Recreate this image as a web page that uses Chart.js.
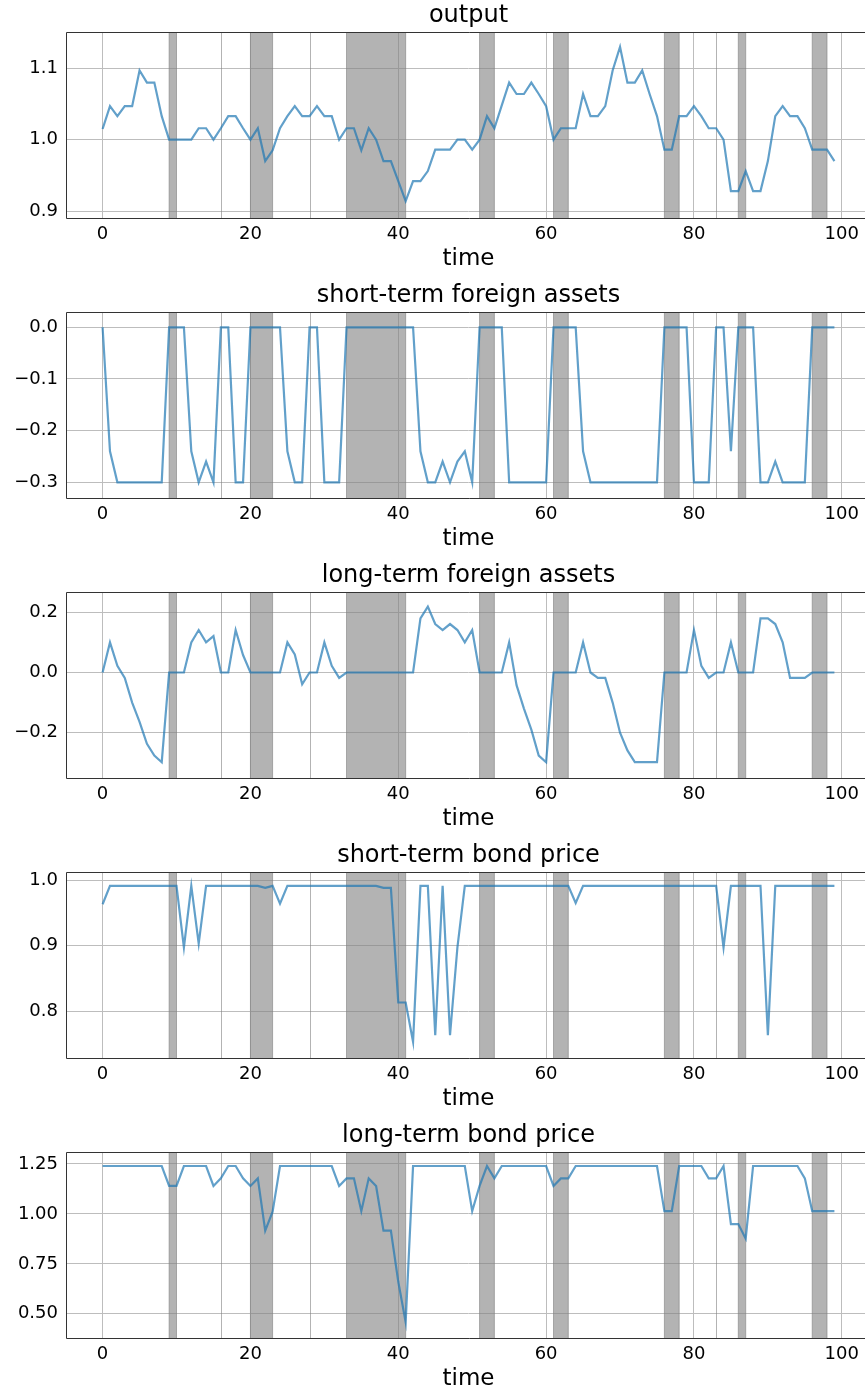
<!DOCTYPE html>
<html><head><meta charset="utf-8">
<script src="https://cdn.jsdelivr.net/npm/chart.js@4.4.1/dist/chart.umd.min.js"></script>
<style>
html,body{margin:0;padding:0;background:#fff;overflow:hidden;width:865px;height:1392px;position:relative;}
canvas.c{position:absolute;left:0;}
</style></head><body>
<script>
// ---- data ----
const time = Array.from({length: 100}, (_, i) => i);
const xTicks = [0, 20, 40, 60, 80, 100];
const spans = [[9,10],[20,23],[33,41],[51,53],[61,63],[76,78],[86,87],[96,98]];
const marks = [16, 28, 83];

const outputValues = [1.015,1.047,1.033,1.047,1.047,1.097,1.080,1.080,1.033,1.0,
 1.0,1.0,1.0,1.016,1.016,1.0,1.016,1.033,1.033,1.016,
 1.0,1.016,0.970,0.985,1.016,1.033,1.047,1.033,1.033,1.047,
 1.033,1.033,1.0,1.016,1.016,0.985,1.016,1.0,0.970,0.970,
 0.942,0.914,0.942,0.942,0.956,0.986,0.986,0.986,1.0,1.0,
 0.986,1.0,1.033,1.016,1.048,1.080,1.064,1.064,1.080,1.064,
 1.047,1.0,1.016,1.016,1.016,1.064,1.033,1.033,1.047,1.097,
 1.130,1.080,1.080,1.097,1.064,1.033,0.986,0.986,1.033,1.033,
 1.047,1.033,1.016,1.016,1.0,0.928,0.928,0.956,0.928,0.928,
 0.970,1.033,1.047,1.033,1.033,1.016,0.986,0.986,0.986,0.970];

const shortAssets = [0,-0.24,-0.3,-0.3,-0.3,-0.3,-0.3,-0.3,-0.3,0,
 0,0,-0.24,-0.3,-0.26,-0.3,0,0,-0.3,-0.3,
 0,0,0,0,0,-0.24,-0.3,-0.3,0,0,
 -0.3,-0.3,-0.3,0,0,0,0,0,0,0,
 0,0,0,-0.24,-0.3,-0.3,-0.26,-0.3,-0.26,-0.24,
 -0.3,0,0,0,0,-0.3,-0.3,-0.3,-0.3,-0.3,
 -0.3,0,0,0,0,-0.24,-0.3,-0.3,-0.3,-0.3,
 -0.3,-0.3,-0.3,-0.3,-0.3,-0.3,0,0,0,0,
 -0.3,-0.3,-0.3,0,0,-0.24,0,0,0,-0.3,
 -0.3,-0.26,-0.3,-0.3,-0.3,-0.3,0,0,0,0];

const longAssets = [0,0.10,0.022,-0.018,-0.10,-0.164,-0.237,-0.276,-0.298,0,
 0,0,0.10,0.141,0.10,0.121,0,0,0.141,0.058,
 0,0,0,0,0,0.10,0.06,-0.039,0,0,
 0.10,0.022,-0.018,0,0,0,0,0,0,0,
 0,0,0,0.18,0.219,0.161,0.141,0.161,0.141,0.10,
 0.141,0,0,0,0,0.10,-0.042,-0.12,-0.19,-0.276,
 -0.298,0,0,0,0,0.10,0,-0.018,-0.018,-0.10,
 -0.20,-0.259,-0.298,-0.298,-0.298,-0.298,0,0,0,0,
 0.141,0.022,-0.018,0,0,0.10,0,0,0,0.18,
 0.18,0.161,0.10,-0.018,-0.018,-0.018,0,0,0,0];

const shortPrice = [0.963,0.991,0.991,0.991,0.991,0.991,0.991,0.991,0.991,0.991,
 0.991,0.897,0.991,0.903,0.991,0.991,0.991,0.991,0.991,0.991,
 0.991,0.991,0.988,0.991,0.964,0.991,0.991,0.991,0.991,0.991,
 0.991,0.991,0.991,0.991,0.991,0.991,0.991,0.991,0.988,0.988,
 0.813,0.813,0.753,0.991,0.991,0.763,0.991,0.763,0.897,0.991,
 0.991,0.991,0.991,0.991,0.991,0.991,0.991,0.991,0.991,0.991,
 0.991,0.991,0.991,0.991,0.965,0.991,0.991,0.991,0.991,0.991,
 0.991,0.991,0.991,0.991,0.991,0.991,0.991,0.991,0.991,0.991,
 0.991,0.991,0.991,0.991,0.897,0.991,0.991,0.991,0.991,0.991,
 0.763,0.991,0.991,0.991,0.991,0.991,0.991,0.991,0.991,0.991];

const longPrice = [1.24,1.24,1.24,1.24,1.24,1.24,1.24,1.24,1.24,1.14,
 1.14,1.24,1.24,1.24,1.24,1.14,1.178,1.24,1.24,1.178,
 1.14,1.178,0.916,1.011,1.24,1.24,1.24,1.24,1.24,1.24,
 1.24,1.24,1.14,1.178,1.178,1.014,1.178,1.14,0.916,0.916,
 0.66,0.458,1.24,1.24,1.24,1.24,1.24,1.24,1.24,1.24,
 1.014,1.14,1.24,1.178,1.24,1.24,1.24,1.24,1.24,1.24,
 1.24,1.14,1.178,1.178,1.24,1.24,1.24,1.24,1.24,1.24,
 1.24,1.24,1.24,1.24,1.24,1.24,1.014,1.014,1.24,1.24,
 1.24,1.24,1.178,1.178,1.24,0.949,0.949,0.876,1.24,1.24,
 1.24,1.24,1.24,1.24,1.24,1.178,1.014,1.014,1.014,1.014];

const outputTicks = [0.9, 1.0, 1.1];
const outputTickLabels = ['0.9', '1.0', '1.1'];
const shortAssetTicks = [-0.3, -0.2, -0.1, 0.0];
const shortAssetTickLabels = ['\u22120.3', '\u22120.2', '\u22120.1', '0.0'];
const longAssetTicks = [-0.2, 0.0, 0.2];
const longAssetTickLabels = ['\u22120.2', '0.0', '0.2'];
const shortPriceTicks = [0.8, 0.9, 1.0];
const shortPriceTickLabels = ['0.8', '0.9', '1.0'];
const longPriceTicks = [0.5, 0.75, 1.0, 1.25];
const longPriceTickLabels = ['0.50', '0.75', '1.00', '1.25'];

const titles = ['output', 'short-term foreign assets', 'long-term foreign assets', 'short-term bond price', 'long-term bond price'];
const xLabel = 'time';

// ---- panel setup ----
const panels = [
  {title: titles[0], values: outputValues, ticks: outputTicks, labels: outputTickLabels, min: 0.8898, max: 1.1505},
  {title: titles[1], values: shortAssets, ticks: shortAssetTicks, labels: shortAssetTickLabels, min: -0.331, max: 0.029},
  {title: titles[2], values: longAssets, ticks: longAssetTicks, labels: longAssetTickLabels, min: -0.3515, max: 0.2664},
  {title: titles[3], values: shortPrice, ticks: shortPriceTicks, labels: shortPriceTickLabels, min: 0.7278, max: 1.0118},
  {title: titles[4], values: longPrice, ticks: longPriceTicks, labels: longPriceTickLabels, min: 0.377, max: 1.3086}
];

const FONT = "'DejaVu Sans', sans-serif";
const GRID = '#bdbdbd';
const SHADE = 'rgba(128,128,128,0.6)';

const spanPlugin = {
  id: 'spans',
  beforeDatasetsDraw(chart) {
    const {ctx, chartArea: {top, bottom}, scales: {x}} = chart;
    ctx.save();
    ctx.fillStyle = SHADE;
    ctx.strokeStyle = SHADE;
    ctx.lineWidth = 1;
    spans.forEach(([a, b]) => {
      const x0 = x.getPixelForValue(a), x1 = x.getPixelForValue(b);
      ctx.fillRect(x0, top, x1 - x0, bottom - top);
      ctx.beginPath();
      ctx.moveTo(x0, top); ctx.lineTo(x0, bottom);
      ctx.moveTo(x1, top); ctx.lineTo(x1, bottom);
      ctx.stroke();
    });
    marks.forEach(m => {
      const xm = Math.round(x.getPixelForValue(m)) + 0.5;
      ctx.beginPath();
      ctx.moveTo(xm, top); ctx.lineTo(xm, bottom);
      ctx.stroke();
    });
    ctx.restore();
  }
};

const framePlugin = {
  id: 'frame',
  afterDatasetsDraw(chart) {
    const {ctx, chartArea: {left, right, top, bottom}} = chart;
    ctx.save();
    ctx.strokeStyle = '#333';
    ctx.lineWidth = 1;
    ctx.beginPath();
    ctx.moveTo(right + 1, Math.round(top) + 0.5);
    ctx.lineTo(Math.round(left) + 0.5, Math.round(top) + 0.5);
    ctx.lineTo(Math.round(left) + 0.5, Math.round(bottom) + 0.5);
    ctx.lineTo(right + 1, Math.round(bottom) + 0.5);
    ctx.stroke();
    ctx.restore();
  }
};

panels.forEach((p, i) => {
  const cv = document.createElement('canvas');
  cv.className = 'c';
  cv.width = 871; cv.height = 280;
  cv.style.width = '871px'; cv.style.height = '280px';
  cv.style.top = (280 * i) + 'px';
  document.body.appendChild(cv);
  new Chart(cv, {
    type: 'line',
    data: {
      labels: time,
      datasets: [{
        data: p.values,
        borderColor: 'rgba(31,119,180,0.7)',
        borderWidth: 2.2,
        pointRadius: 0,
        tension: 0,
        fill: false
      }]
    },
    options: {
      responsive: false,
      animation: false,
      devicePixelRatio: 1,
      layout: {padding: 0},
      plugins: {
        legend: {display: false},
        tooltip: {enabled: false},
        title: {
          display: true, text: p.title, fullSize: false,
          font: {family: FONT, size: 24, weight: 'normal'}, color: '#000',
          padding: {top: 1.3, bottom: 2.2}
        }
      },
      scales: {
        x: {
          type: 'linear', min: -4.95, max: 103.95,
          afterBuildTicks: s => { s.ticks = xTicks.map(v => ({value: v})); },
          afterFit: s => { s.height = 61.7; },
          ticks: {font: {family: FONT, size: 18}, color: '#000', padding: 5.4, maxRotation: 0, autoSkip: false,
                  callback: v => String(v)},
          grid: {color: GRID, lineWidth: 1, drawTicks: false},
          border: {display: false},
          title: {display: true, text: xLabel, font: {family: FONT, size: 23}, color: '#000', padding: {top: 0, bottom: 6.9}}
        },
        y: {
          min: p.min, max: p.max,
          afterBuildTicks: s => { s.ticks = p.ticks.map(v => ({value: v})); },
          afterFit: s => { s.width = 66; },
          ticks: {font: {family: FONT, size: 18}, color: '#000', padding: 8,
                  callback: (v) => { const k = p.ticks.findIndex(t => Math.abs(t - v) < 1e-9); return k >= 0 ? p.labels[k] : ''; }},
          grid: {color: GRID, lineWidth: 1, drawTicks: false},
          border: {display: false}
        }
      }
    },
    plugins: [spanPlugin, framePlugin]
  });
});
</script>
</body></html>
